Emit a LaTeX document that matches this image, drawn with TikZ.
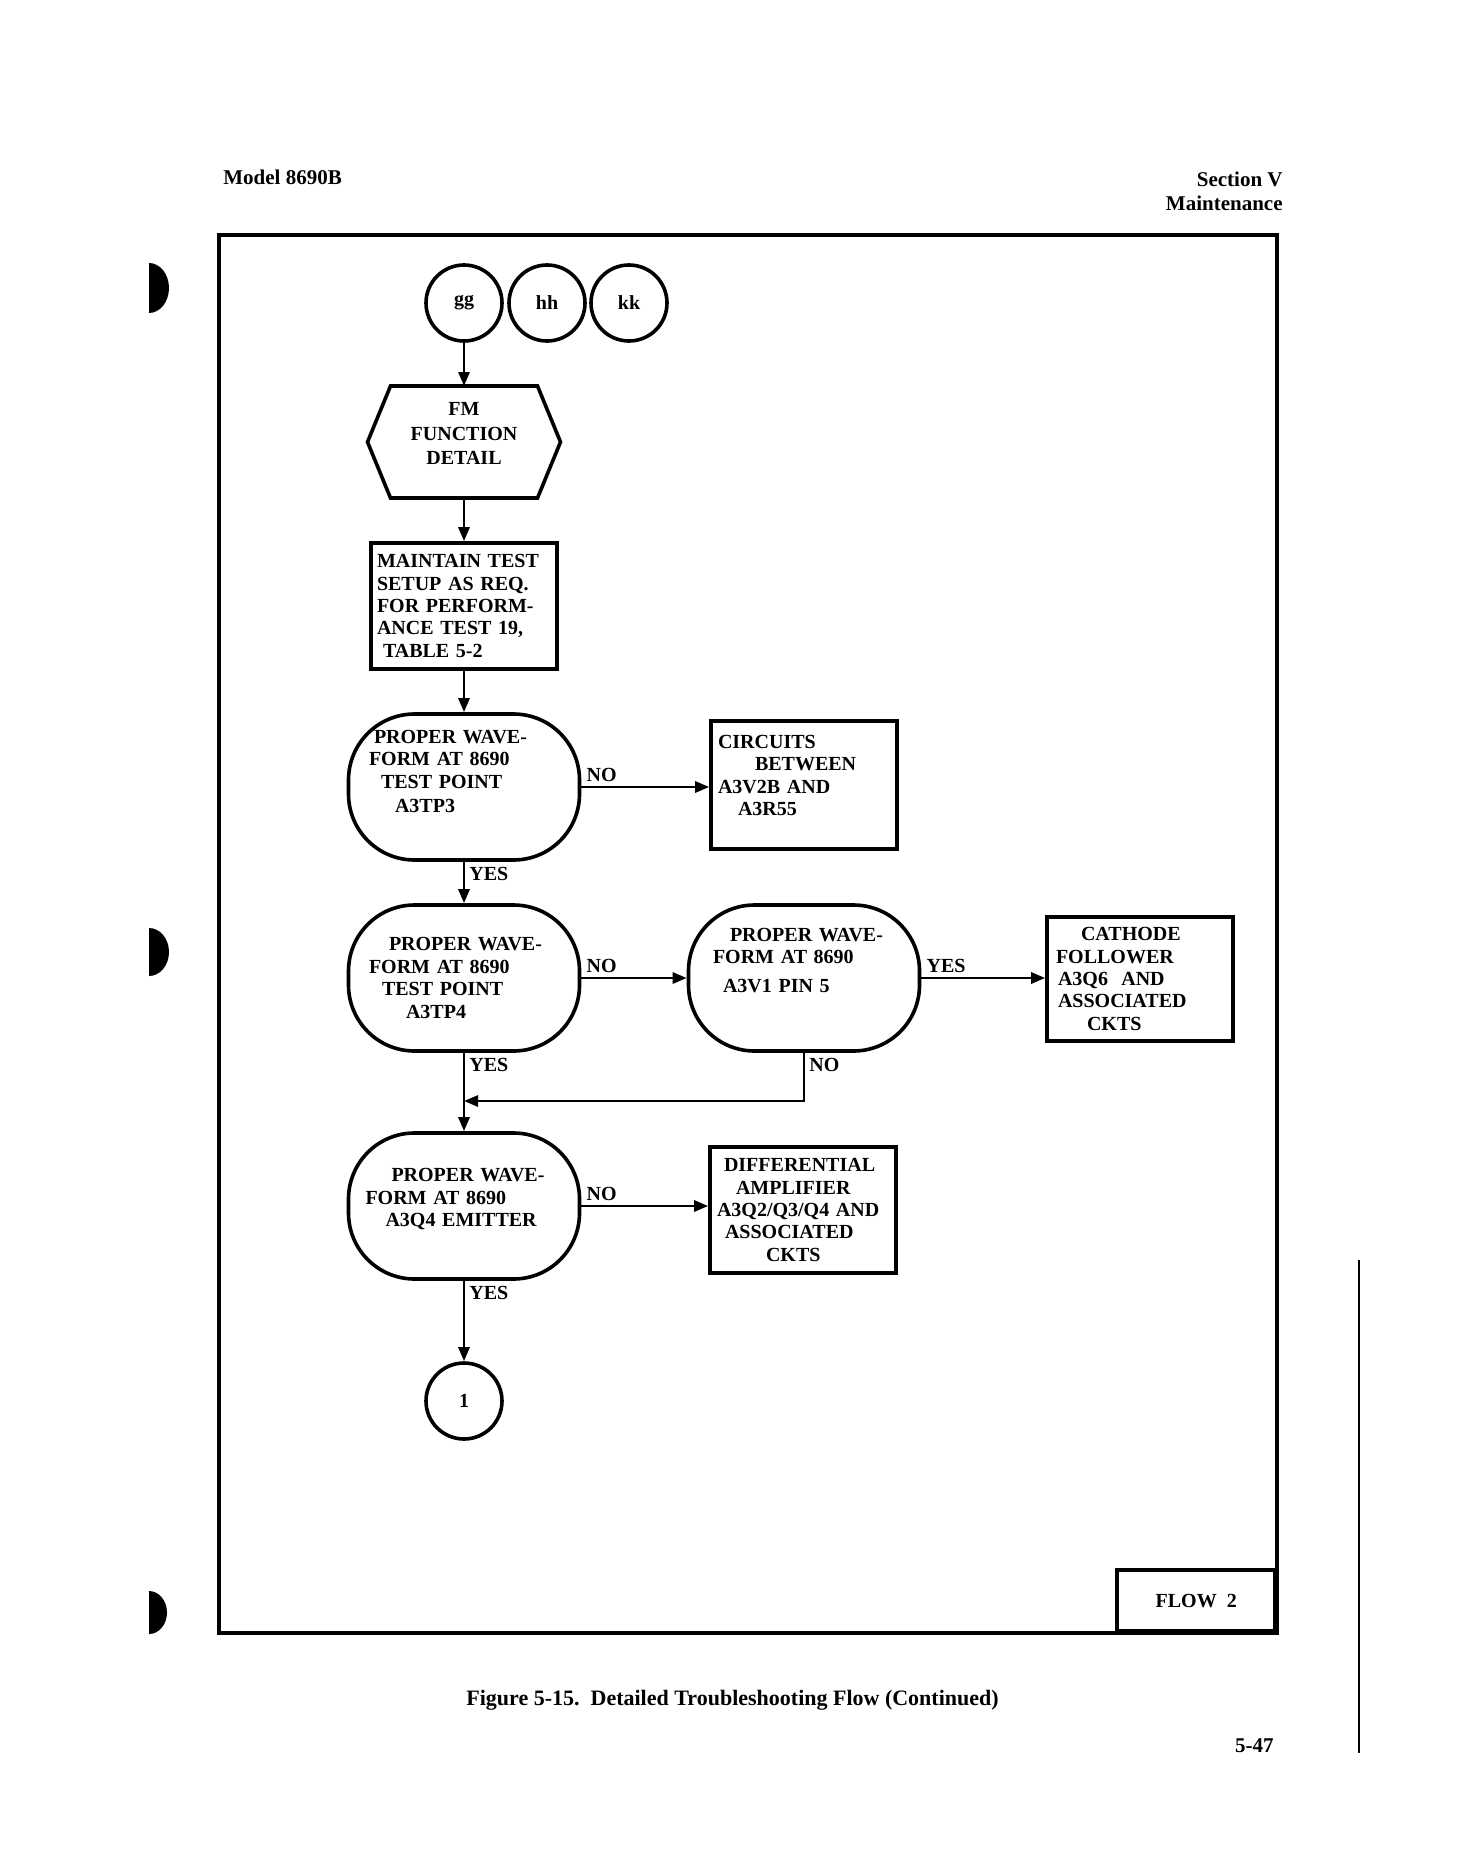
\documentclass[tikz,border=0pt]{standalone}
\usepackage{fontspec}
\setmainfont{Liberation Serif}
\usetikzlibrary{arrows.meta}

\newcommand{\flowfont}{\bfseries\fontsize{10}{11.2}\selectfont}
\newcommand{\pagefont}{\bfseries\fontsize{10.5}{12}\selectfont}

\tikzset{
	conn/.style={draw, circle, line width=1.8pt, minimum size=38pt, inner sep=0pt},
	actbox/.style={draw, line width=1.8pt, minimum width=93pt, minimum height=63pt, inner sep=3pt, align=left},
	decision/.style={draw, line width=1.8pt, rounded corners=33pt, minimum width=115.5pt, minimum height=73pt, align=left},
	flowline/.style={line width=1.4pt, ->},
	answer/.style={inner sep=2pt},
	pagetext/.style={inner sep=0pt, font=\pagefont}
}

\begin{document}
\begin{tikzpicture}[x=0.5pt, y=-0.5pt, font=\flowfont, >={Triangle[length=7pt,width=5.5pt]}]
	\useasboundingbox (0,0) rectangle (1475,1872);

	% Punch holes and page edge
	\fill (149,263) arc[start angle=-90, end angle=90, x radius=20, y radius=25] -- cycle;
	\fill (149,928) arc[start angle=-90, end angle=90, x radius=20, y radius=24] -- cycle;
	\fill (149,1591) arc[start angle=-90, end angle=90, x radius=18, y radius=21.5] -- cycle;
	\draw[line width=1pt] (1359,1260) -- (1359,1753);

	% Page header and footer
	\node[pagetext, anchor=west] (model) at (223,177) {Model 8690B};
	\node[pagetext, anchor=east] (sect) at (1283,179) {Section V};
	\node[pagetext, anchor=east] (maint) at (1283,203) {Maintenance};
	\node[pagetext, anchor=west, font=\bfseries\fontsize{11}{13}\selectfont] (caption) at (466,1700) {Figure 5-15.\ \ Detailed Troubleshooting Flow (Continued)};
	\node[pagetext, anchor=east] (pageno) at (1274,1746) {5-47};

	% Frame
	\draw[line width=1.8pt] (219,235) rectangle (1277,1633);
	\node[draw, line width=1.8pt, anchor=south east, minimum width=79pt, minimum height=30.5pt] (flow) at (1277,1633) {FLOW\ \ 2};

	% Entry points
	\node[conn] (gg) at (464,303) {gg};
	\node[conn] (hh) at (547,303) {hh};
	\node[conn] (kk) at (629,303) {kk};

	% FM function detail
	\node[minimum width=96.5pt, minimum height=56pt, align=center, inner sep=0pt, outer sep=0pt] (fm) at (464,442) {FM\\[1pt]FUNCTION\\[1pt]DETAIL\\[-2.8pt]\mbox{}};
	\draw[line width=1.8pt] (fm.west) -- ([xshift=11.5pt]fm.north west) -- ([xshift=-11.5pt]fm.north east)
		-- (fm.east) -- ([xshift=-11.5pt]fm.south east) -- ([xshift=11.5pt]fm.south west) -- cycle;

	\node[actbox, text width=87pt] (setup) at (464,606) {MAINTAIN TEST\\SETUP AS REQ.\\FOR PERFORM-\\ANCE TEST 19,\\\hspace*{3pt}TABLE 5-2};

	% Checks
	\node[decision, text width=95pt] (tp3) at (464,787) {\hspace*{2.5pt}PROPER WAVE-\\FORM AT 8690\\\hspace*{6pt}TEST POINT\\[1pt]\hspace*{13pt}A3TP3\\[4.4pt]\mbox{}};
	\node[decision, text width=95pt] (tp4) at (464,978) {\hspace*{10pt}PROPER WAVE-\\FORM AT 8690\\\hspace*{6.5pt}TEST POINT\\\hspace*{18.5pt}A3TP4};
	\node[decision, text width=91pt] (pin5) at (804,978) {\hspace*{8.5pt}PROPER WAVE-\\FORM AT 8690\\[3pt]\hspace*{5pt}A3V1 PIN 5\\[6.8pt]\mbox{}};
	\node[decision, text width=98.5pt] (emit) at (464,1206) {\hspace*{13pt}PROPER WAVE-\\FORM AT 8690\\\hspace*{10pt}A3Q4 EMITTER\\[-2.8pt]\mbox{}};

	% Faulty circuits
	\node[actbox, text width=86pt, minimum height=64pt] (ckt) at (804,785) {CIRCUITS\\\hspace*{18.5pt}BETWEEN\\A3V2B AND\\\hspace*{10pt}A3R55\\[-1.6pt]\mbox{}};
	\node[actbox, text width=84pt, minimum height=62pt] (cath) at (1140,979) {\hspace*{12.5pt}CATHODE\\FOLLOWER\\\hspace*{1pt}A3Q6\ \ AND\\\hspace*{1pt}ASSOCIATED\\\hspace*{15.5pt}CKTS};
	\node[actbox, text width=86pt] (diff) at (803,1210) {\hspace*{3.5pt}DIFFERENTIAL\\\hspace*{9.5pt}AMPLIFIER\\A3Q2/Q3/Q4 AND\\\hspace*{4pt}ASSOCIATED\\\hspace*{24.5pt}CKTS};

	% Exit
	\node[conn] (one) at (464,1401) {1};

	% Connections
	\draw[flowline] (gg) -- (fm.north);
	\draw[flowline] (fm.south) -- (setup.north);
	\draw[flowline] (setup.south) -- (tp3.north);
	\draw[flowline] (tp3.east) -- node[pos=0, above right, answer] {NO} (tp3.east -| ckt.west);
	\draw[flowline] (tp3.south) -- node[pos=0, below right, answer] {YES} (tp4.north);
	\draw[flowline] (tp4.east) -- node[pos=0, above right, answer] {NO} (pin5.west);
	\draw[flowline] (pin5.east) -- node[pos=0, above right, answer] {YES} (pin5.east -| cath.west);
	\draw[flowline] (tp4.south) -- node[pos=0, below right, answer] {YES} (emit.north);
	\coordinate (merge) at (464,1101);
	\draw[flowline] (pin5.south) |- node[pos=0, below right, answer] {NO} (merge);
	\draw[flowline] (emit.east) -- node[pos=0, above right, answer] {NO} (emit.east -| diff.west);
	\draw[flowline] (emit.south) -- node[pos=0, below right, answer] {YES} (one.north);
\end{tikzpicture}
\end{document}
